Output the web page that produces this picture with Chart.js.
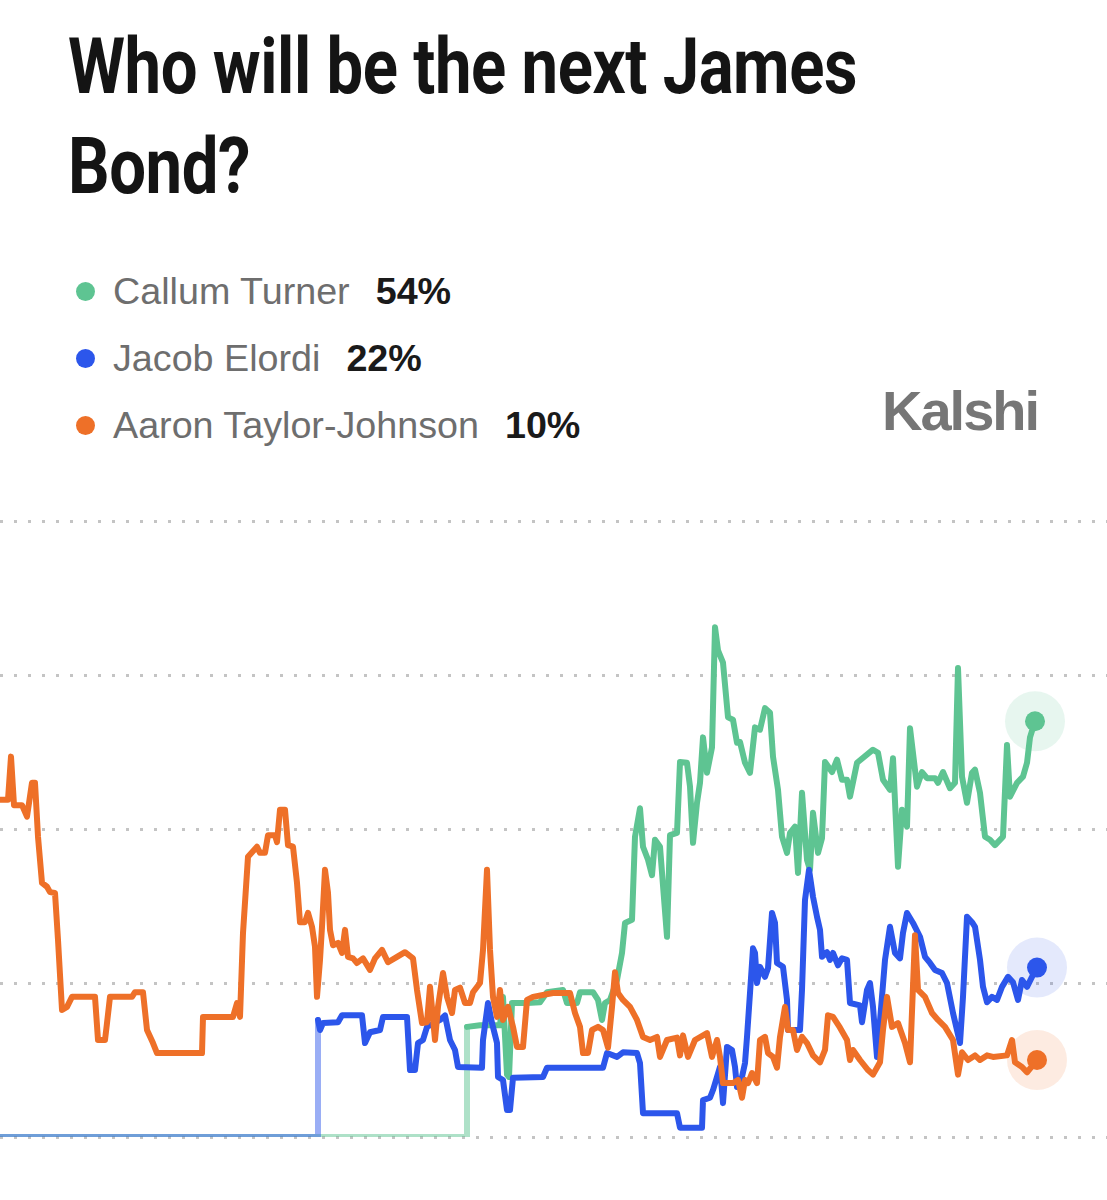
<!DOCTYPE html>
<html>
<head>
<meta charset="utf-8">
<script src="https://cdn.jsdelivr.net/npm/chart.js@4.4.1/dist/chart.umd.min.js"></script>
<style>
  body { margin: 0; background: #fff; width: 1107px; height: 1200px; position: relative; overflow: hidden; }
  h1 {
    position: absolute; left: 68px; top: 17px; margin: 0;
    font-family: Roboto, "Liberation Sans", sans-serif;
    font-weight: bold; font-size: 77px; line-height: 100px; letter-spacing: -0.5px;
    color: #141414; width: 1000px;
  }
  h1 .ln { display: inline-block; white-space: nowrap; transform-origin: 0 0; }
  .legend { position: absolute; left: 76px; top: 258px; font-family: "Liberation Sans", Arial, sans-serif; }
  .row { height: 67px; display: flex; align-items: center; font-size: 37.7px; color: #6e6e6e; }
  .dot { width: 19px; height: 19px; border-radius: 50%; margin-right: 18px; }
  .pct { color: #1a1a1a; font-weight: bold; margin-left: 26px; }
  .logo {
    position: absolute; left: 882px; top: 378px;
    font-family: "Liberation Sans", Arial, sans-serif; font-weight: bold;
    font-size: 56px; letter-spacing: -2px; color: #767676;
  }
  #wrap { position: absolute; left: 0; top: 490px; width: 1107px; height: 680px; }
</style>
</head>
<body>
<h1><span class="ln">Who will be the next James</span><br><span class="ln">Bond?</span></h1>
<div class="legend" id="legend"></div>
<div class="logo">Kalshi</div>
<div id="wrap"><canvas id="grafico"></canvas></div>
<script>
// time index (t) and chance in %
var nomes = ['Callum Turner', 'Jacob Elordi', 'Aaron Taylor-Johnson'];
var cores = ['#5ec492', '#2c56eb', '#ee7028'];
var apagadas = ['rgba(94,196,146,0.5)', 'rgba(44,86,235,0.48)', ''];
var halos = ['rgba(94,196,146,0.15)', 'rgba(44,86,235,0.13)', 'rgba(238,112,40,0.14)'];

var callumT = [0, 467, 467, 480, 500, 503, 507, 509, 512, 527, 540, 547, 563, 567, 577, 580, 593, 598, 602, 605, 610, 617, 622, 625, 632, 635, 640, 643, 648, 652, 655, 660, 667, 670, 677, 680, 687, 690, 693, 697, 700, 703, 707, 712, 715, 718, 723, 728, 733, 737, 740, 745, 750, 755, 760, 765, 770, 773, 778, 782, 787, 790, 795, 798, 802, 807, 810, 813, 818, 822, 825, 832, 837, 842, 847, 850, 857, 873, 878, 883, 890, 893, 898, 902, 907, 910, 917, 922, 927, 935, 938, 943, 950, 955, 958, 962, 967, 972, 975, 980, 985, 990, 995, 1003, 1007, 1010, 1017, 1023, 1027, 1030, 1035];
var callumV = [0, 0, 14.3, 14.5, 14.5, 18.2, 8.1, 7.8, 17.4, 17.4, 17.5, 18.8, 19.1, 17.4, 17.4, 18.8, 18.8, 17.8, 15.2, 17.4, 17.8, 20.4, 23.9, 27.8, 28.2, 39.0, 42.7, 37.7, 36.0, 34.0, 38.6, 37.7, 26.0, 39.2, 39.5, 48.7, 48.6, 45.5, 38.2, 43.4, 46.0, 51.9, 47.3, 50.6, 66.2, 63.2, 61.6, 54.5, 54.2, 51.2, 51.3, 48.6, 47.3, 53.2, 52.9, 55.7, 55.1, 49.4, 45.1, 39.0, 36.9, 39.5, 40.3, 34.3, 44.7, 36.0, 34.7, 42.1, 36.9, 38.8, 48.7, 47.4, 49.0, 46.4, 46.4, 44.2, 48.6, 50.3, 49.9, 46.4, 45.1, 49.2, 35.1, 42.5, 40.3, 53.1, 45.5, 47.4, 46.6, 46.6, 46.0, 47.4, 45.3, 46.0, 60.9, 46.8, 43.4, 47.3, 47.7, 44.7, 39.0, 38.6, 37.9, 39.0, 50.9, 44.2, 46.0, 46.8, 48.6, 51.9, 54];

var jacobT = [0, 318, 318, 320, 323, 338, 342, 362, 365, 370, 380, 383, 407, 410, 415, 418, 423, 427, 440, 445, 450, 455, 458, 482, 483, 488, 492, 497, 498, 503, 507, 510, 513, 543, 547, 603, 607, 617, 623, 637, 640, 643, 677, 680, 702, 703, 710, 713, 717, 720, 723, 727, 732, 735, 737, 742, 745, 747, 750, 753, 755, 757, 760, 765, 768, 772, 775, 777, 783, 787, 788, 800, 802, 805, 809, 813, 817, 820, 822, 827, 830, 833, 838, 842, 847, 850, 860, 862, 867, 870, 873, 877, 882, 885, 890, 895, 900, 903, 907, 913, 920, 925, 930, 935, 942, 947, 953, 960, 963, 967, 972, 975, 980, 983, 987, 992, 997, 1002, 1008, 1013, 1018, 1022, 1027, 1032, 1037];
var jacobV = [0, 0, 15.2, 13.9, 14.8, 14.9, 15.8, 15.8, 12.2, 13.6, 13.9, 15.6, 15.6, 8.7, 8.7, 12.2, 12.6, 14.3, 15.2, 15.8, 12.6, 11.3, 9.1, 9.0, 12.6, 17.4, 14.8, 12.2, 7.8, 7.4, 3.5, 3.5, 7.7, 7.8, 9.0, 9.0, 10.9, 10.4, 11.0, 10.9, 9.6, 3.1, 3.1, 1.2, 1.2, 4.8, 5.1, 6.1, 7.8, 9.1, 4.4, 11.7, 11.3, 9.1, 6.5, 7.8, 9.6, 13.0, 18.7, 24.5, 23.9, 20.0, 22.1, 20.8, 21.9, 29.1, 27.8, 22.6, 22.1, 17.8, 13.9, 13.9, 19.1, 30.8, 34.7, 31.2, 28.6, 26.9, 23.4, 24.0, 23.0, 23.9, 22.3, 23.2, 23.0, 17.4, 17.1, 14.9, 19.1, 20.0, 16.9, 10.4, 18.2, 23.0, 27.3, 23.9, 23.2, 26.5, 29.1, 27.8, 26.0, 23.4, 22.6, 21.7, 21.3, 20.0, 16.1, 12.2, 18.2, 28.6, 27.9, 27.3, 23.0, 19.5, 17.5, 18.2, 17.8, 19.5, 20.8, 20.1, 17.8, 20.4, 19.5, 20.8, 22];

var aaronT = [0, 8, 11, 14, 22, 27, 32, 35, 38, 42, 47, 50, 55, 58, 62, 67, 72, 95, 98, 105, 107, 110, 132, 135, 143, 147, 153, 157, 202, 203, 233, 237, 240, 243, 248, 257, 260, 265, 268, 275, 277, 280, 285, 288, 293, 297, 300, 305, 308, 312, 315, 317, 320, 322, 325, 328, 330, 333, 338, 342, 345, 348, 353, 357, 363, 370, 375, 382, 388, 397, 405, 413, 417, 422, 427, 430, 435, 438, 443, 447, 452, 455, 460, 465, 470, 473, 480, 483, 487, 490, 493, 497, 500, 503, 508, 513, 517, 523, 527, 533, 553, 570, 575, 580, 583, 588, 592, 598, 603, 608, 612, 615, 618, 623, 630, 637, 643, 650, 657, 660, 667, 677, 680, 683, 688, 695, 707, 712, 717, 720, 723, 733, 738, 742, 745, 748, 752, 757, 760, 765, 768, 773, 777, 780, 785, 788, 793, 797, 802, 807, 813, 820, 825, 828, 833, 840, 847, 850, 853, 860, 868, 873, 880, 883, 887, 892, 898, 905, 910, 915, 918, 925, 932, 938, 945, 953, 958, 962, 968, 975, 980, 987, 993, 1007, 1012, 1015, 1022, 1027, 1037];
var aaronV = [43.8, 43.8, 49.4, 43.1, 43.1, 41.6, 46.0, 46.0, 39.0, 33.0, 32.5, 31.8, 31.7, 25.6, 16.5, 16.9, 18.2, 18.2, 12.6, 12.6, 14.8, 18.2, 18.2, 18.8, 18.8, 13.9, 12.2, 10.9, 10.9, 15.6, 15.6, 17.4, 15.6, 26.5, 36.4, 37.7, 36.9, 36.9, 39.2, 39.2, 38.3, 42.5, 42.5, 37.9, 37.7, 33.0, 27.9, 27.9, 29.1, 27.3, 24.7, 18.2, 23.0, 27.3, 34.7, 31.7, 26.9, 24.9, 25.2, 23.9, 26.9, 23.4, 23.2, 22.6, 23.2, 21.7, 23.2, 24.3, 22.7, 23.4, 24.0, 23.2, 19.1, 14.8, 14.9, 19.5, 12.6, 16.9, 21.3, 18.2, 16.1, 19.1, 19.4, 17.4, 17.4, 18.8, 20.0, 24.3, 34.7, 24.3, 18.2, 15.6, 19.1, 15.2, 16.9, 14.3, 11.7, 11.7, 17.8, 18.2, 18.7, 18.7, 16.1, 14.3, 10.9, 10.9, 13.9, 14.3, 13.9, 11.6, 16.9, 21.4, 18.7, 17.8, 16.9, 15.2, 13.0, 12.6, 13.0, 10.4, 12.6, 12.9, 10.6, 13.2, 10.4, 12.6, 13.5, 10.4, 12.6, 10.4, 7.0, 7.0, 7.4, 5.1, 7.4, 7.0, 8.3, 7.0, 12.6, 13.0, 10.9, 10.4, 9.0, 13.0, 16.9, 13.9, 13.9, 11.3, 13.0, 12.2, 10.6, 9.7, 11.3, 15.8, 15.6, 14.2, 12.6, 10.0, 11.3, 10.0, 8.7, 8.1, 9.7, 13.9, 18.2, 14.3, 14.8, 12.2, 9.7, 26.2, 19.1, 18.2, 16.1, 15.2, 14.3, 12.6, 8.1, 11.0, 10.0, 10.6, 10.0, 10.6, 10.4, 10.6, 12.6, 9.7, 9.1, 8.4, 10];

var tempos = [callumT, jacobT, aaronT];
var valores = [callumV, jacobV, aaronV];
var rotulos = ['54%', '22%', '10%'];

// titulo condensado: estica a primeira linha ate a largura do original
var linhas = document.querySelectorAll('h1 .ln');
var escala = 789 / linhas[0].getBoundingClientRect().width;
linhas.forEach(function (l) { l.style.transform = 'scaleX(' + escala + ')'; });

// legenda em html
var leg = document.getElementById('legend');
nomes.forEach(function (n, i) {
  leg.innerHTML += '<div class="row"><span class="dot" style="background:' + cores[i] + '"></span>' +
    n + '<span class="pct">' + rotulos[i] + '</span></div>';
});

function pontos(t, v) {
  return t.map(function (x, i) { return { x: x, y: v[i] }; });
}

var datasets = [];
// linhas: laranja em cima, depois azul, verde embaixo
[2, 1, 0].forEach(function (i, k) {
  var pts = pontos(tempos[i], valores[i]);
  var ultimo = pts.length - 1;
  var inicio = pts.find(function (p) { return p.y > 0; }).x; // quando o mercado abriu
  datasets.push({
    data: pts,
    borderColor: cores[i],
    borderWidth: 6,
    borderJoinStyle: 'round',
    borderCapStyle: 'round',
    tension: 0,
    order: k + 1,
    pointRadius: function (c) { return c.dataIndex === ultimo ? 10 : 0; },
    pointBackgroundColor: cores[i],
    pointBorderWidth: 0,
    segment: {
      borderColor: function (c) {
        return (apagadas[i] && c.p1.parsed.x <= inicio) ? apagadas[i] : undefined;
      }
    }
  });
  // halo do ultimo ponto
  datasets.push({
    data: [pts[ultimo]],
    showLine: false,
    order: 10,
    pointRadius: 30,
    pointBackgroundColor: halos[i],
    pointBorderWidth: 0
  });
});

new Chart(document.getElementById('grafico').getContext('2d'), {
  type: 'line',
  data: { datasets: datasets },
  options: {
    responsive: true,
    maintainAspectRatio: false,
    animation: false,
    events: [],
    layout: { autoPadding: false, padding: { top: 31, bottom: 33, left: 0, right: 0 } },
    plugins: { legend: { display: false }, tooltip: { enabled: false } },
    scales: {
      x: { type: 'linear', min: 0, max: 1107, display: false },
      y: {
        min: 0, max: 80,
        ticks: { display: false, stepSize: 20 },
        grid: { color: '#c4c4c4', lineWidth: 3, drawTicks: false },
        border: { display: false, dash: [3, 11] }
      }
    }
  }
});
</script>
</body>
</html>
